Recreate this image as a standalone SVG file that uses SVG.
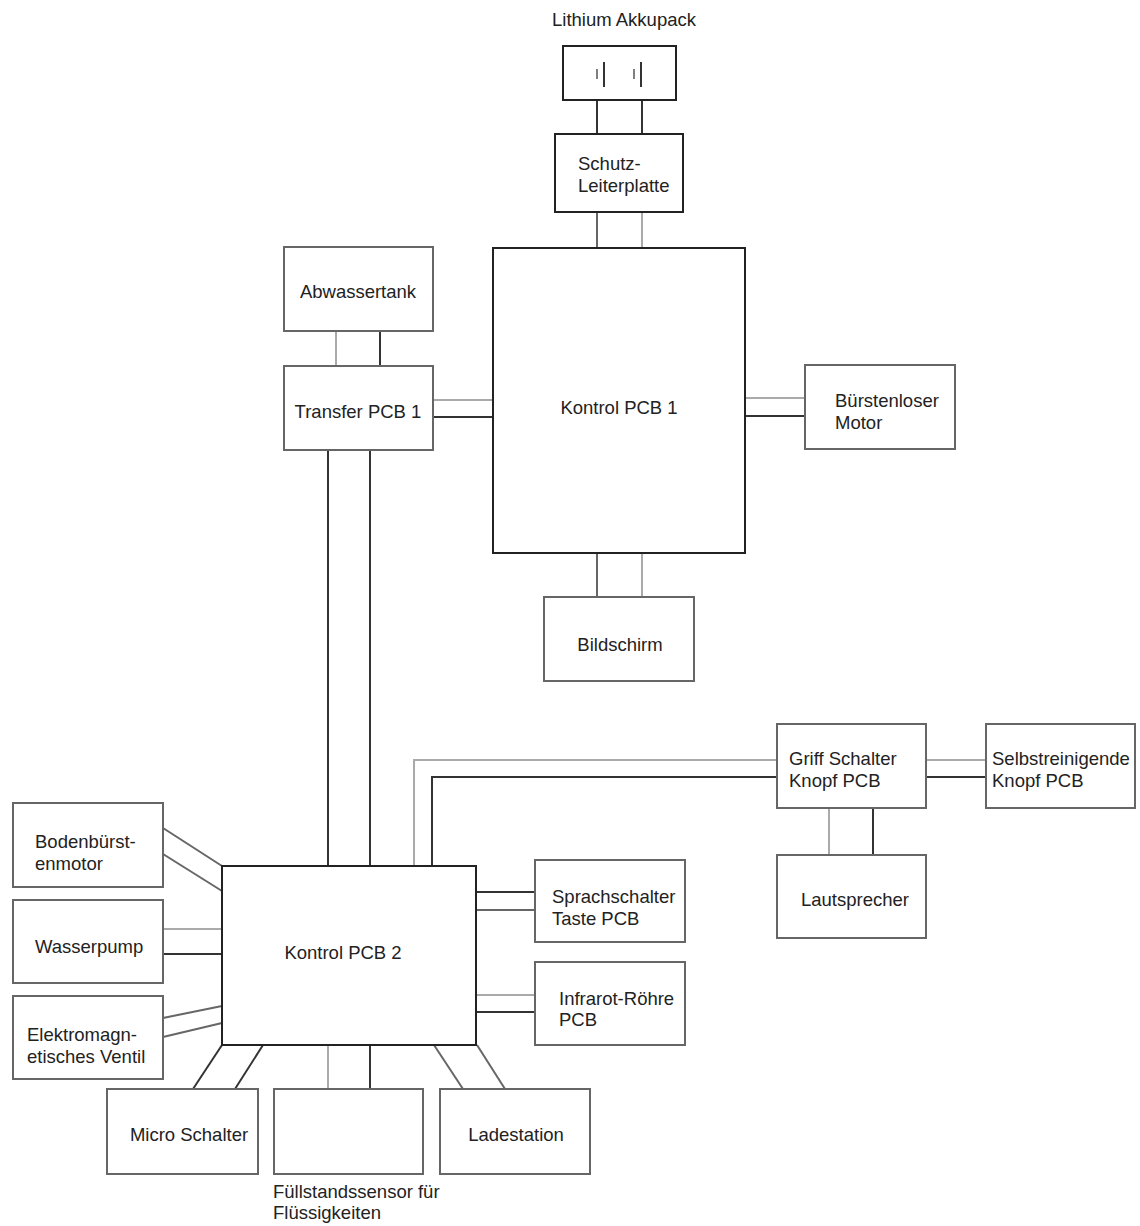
<svg xmlns="http://www.w3.org/2000/svg" width="1140" height="1226" viewBox="0 0 1140 1226">
<style>
.box{fill:#fff;stroke:#666;stroke-width:2}
.main{fill:#fff;stroke:#222;stroke-width:2}
.dk{stroke:#333;stroke-width:2;fill:none}
.md{stroke:#666;stroke-width:2;fill:none}
.lt{stroke:#aaa;stroke-width:2;fill:none}
text{font-family:"Liberation Sans",Arial,sans-serif;font-size:18.5px;fill:#222}
.c{text-anchor:middle}
</style>
<rect width="1140" height="1226" fill="#fff"/>
<g id="connectors">
<line class="dk" x1="597" y1="100" x2="597" y2="134"/>
<line class="dk" x1="642" y1="100" x2="642" y2="134"/>
<line class="md" x1="597" y1="212" x2="597" y2="248"/>
<line class="lt" x1="642" y1="212" x2="642" y2="248"/>
<line class="lt" x1="336" y1="331" x2="336" y2="366"/>
<line class="dk" x1="380" y1="331" x2="380" y2="366"/>
<line class="lt" x1="433" y1="400" x2="493" y2="400"/>
<line class="dk" x1="433" y1="417" x2="493" y2="417"/>
<line class="dk" x1="328" y1="450" x2="328" y2="866"/>
<line class="dk" x1="370" y1="450" x2="370" y2="866"/>
<line class="lt" x1="745" y1="398" x2="805" y2="398"/>
<line class="dk" x1="745" y1="416" x2="805" y2="416"/>
<line class="md" x1="597" y1="553" x2="597" y2="597"/>
<line class="lt" x1="642" y1="553" x2="642" y2="597"/>
<line class="md" x1="163" y1="828" x2="222" y2="866"/>
<line class="md" x1="163" y1="854" x2="222" y2="891"/>
<line class="lt" x1="163" y1="929" x2="222" y2="929"/>
<line class="dk" x1="163" y1="954" x2="222" y2="954"/>
<line class="md" x1="163" y1="1018" x2="222" y2="1006"/>
<line class="md" x1="163" y1="1037" x2="222" y2="1023"/>
<line class="dk" x1="222" y1="1045" x2="193" y2="1089"/>
<line class="dk" x1="263" y1="1045" x2="235" y2="1089"/>
<line class="lt" x1="328" y1="1045" x2="328" y2="1089"/>
<line class="dk" x1="370" y1="1045" x2="370" y2="1089"/>
<line class="md" x1="434" y1="1045" x2="463" y2="1089"/>
<line class="md" x1="477" y1="1045" x2="505" y2="1089"/>
<line class="dk" x1="476" y1="892" x2="535" y2="892"/>
<line class="md" x1="476" y1="910" x2="535" y2="910"/>
<line class="lt" x1="476" y1="995" x2="535" y2="995"/>
<line class="dk" x1="476" y1="1012" x2="535" y2="1012"/>
<polyline class="lt" points="414,866 414,760 777,760"/>
<polyline class="dk" points="432,866 432,777 777,777"/>
<line class="lt" x1="926" y1="760" x2="986" y2="760"/>
<line class="dk" x1="926" y1="777" x2="986" y2="777"/>
<line class="lt" x1="829" y1="808" x2="829" y2="855"/>
<line class="dk" x1="873" y1="808" x2="873" y2="855"/>
</g>
<g id="akkupack">
<text class="c" x="624" y="26">Lithium Akkupack</text>
<rect class="main" x="563" y="46" width="113" height="54"/>
<line stroke="#555" stroke-width="1.5" x1="597" y1="69" x2="597" y2="79"/>
<line stroke="#333" stroke-width="2" x1="604" y1="62" x2="604" y2="87"/>
<line stroke="#555" stroke-width="1.5" x1="634" y1="69" x2="634" y2="79"/>
<line stroke="#333" stroke-width="2" x1="641" y1="62" x2="641" y2="87"/>
</g>
<g id="schutz">
<rect class="main" x="555" y="134" width="128" height="78"/>
<text x="578" y="170">Schutz-</text>
<text x="578" y="192">Leiterplatte</text>
</g>
<g id="kontrol1">
<rect class="main" x="493" y="248" width="252" height="305"/>
<text class="c" x="619" y="414">Kontrol PCB 1</text>
</g>
<g id="abwassertank">
<rect class="box" x="284" y="247" width="149" height="84"/>
<text class="c" x="358" y="298">Abwassertank</text>
</g>
<g id="transfer1">
<rect class="box" x="284" y="366" width="149" height="84"/>
<text class="c" x="358" y="418">Transfer PCB 1</text>
</g>
<g id="motor">
<rect class="box" x="805" y="365" width="150" height="84"/>
<text x="835" y="407">Bürstenloser</text>
<text x="835" y="429">Motor</text>
</g>
<g id="bildschirm">
<rect class="box" x="544" y="597" width="150" height="84"/>
<text class="c" x="620" y="651">Bildschirm</text>
</g>
<g id="kontrol2">
<rect class="main" x="222" y="866" width="254" height="179"/>
<text class="c" x="343" y="959">Kontrol PCB 2</text>
</g>
<g id="bodenbuerste">
<rect class="box" x="13" y="803" width="150" height="84"/>
<text x="35" y="848">Bodenbürst-</text>
<text x="35" y="870">enmotor</text>
</g>
<g id="wasserpump">
<rect class="box" x="13" y="900" width="150" height="83"/>
<text x="35" y="953">Wasserpump</text>
</g>
<g id="ventil">
<rect class="box" x="13" y="996" width="150" height="83"/>
<text x="27" y="1041">Elektromagn-</text>
<text x="27" y="1063">etisches Ventil</text>
</g>
<g id="microschalter">
<rect class="box" x="107" y="1089" width="151" height="85"/>
<text class="c" x="189" y="1141">Micro Schalter</text>
</g>
<g id="fuellstand">
<rect class="box" x="274" y="1089" width="149" height="85"/>
<text x="273" y="1198">Füllstandssensor für</text>
<text x="273" y="1219">Flüssigkeiten</text>
</g>
<g id="ladestation">
<rect class="box" x="440" y="1089" width="150" height="85"/>
<text class="c" x="516" y="1141">Ladestation</text>
</g>
<g id="sprachschalter">
<rect class="box" x="535" y="860" width="150" height="82"/>
<text x="552" y="903">Sprachschalter</text>
<text x="552" y="925">Taste PCB</text>
</g>
<g id="infrarot">
<rect class="box" x="535" y="962" width="150" height="83"/>
<text x="559" y="1005">Infrarot-Röhre</text>
<text x="559" y="1026">PCB</text>
</g>
<g id="griff">
<rect class="box" x="777" y="724" width="149" height="84"/>
<text x="789" y="765">Griff Schalter</text>
<text x="789" y="787">Knopf PCB</text>
</g>
<g id="selbstreinigend">
<rect class="box" x="986" y="724" width="149" height="84"/>
<text x="992" y="765">Selbstreinigende</text>
<text x="992" y="787">Knopf PCB</text>
</g>
<g id="lautsprecher">
<rect class="box" x="777" y="855" width="149" height="83"/>
<text class="c" x="855" y="906">Lautsprecher</text>
</g>
</svg>
